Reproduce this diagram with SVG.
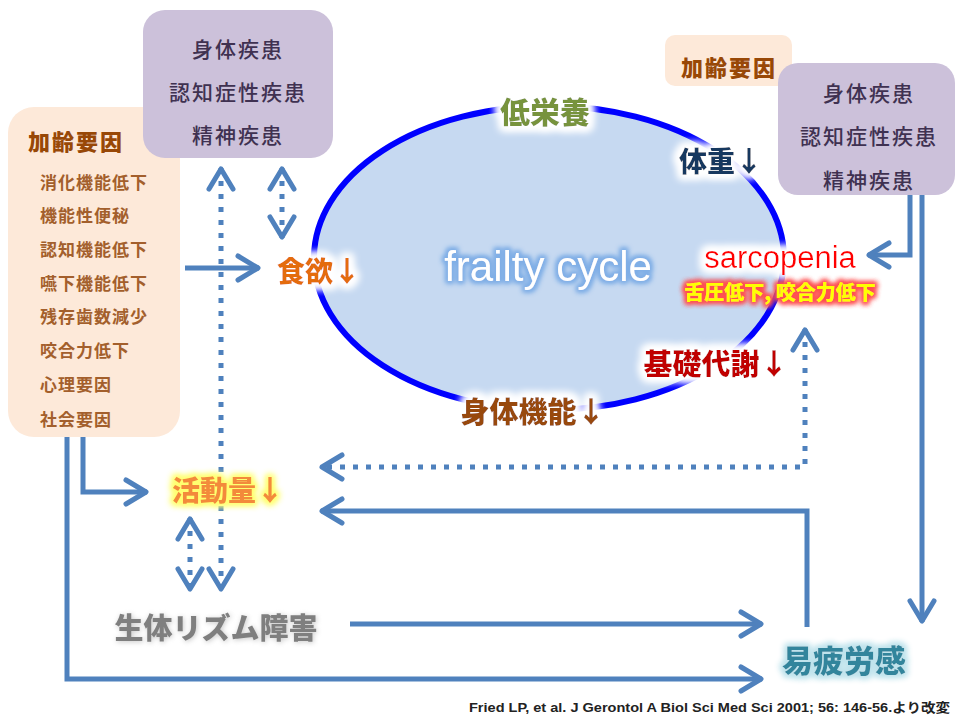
<svg xmlns="http://www.w3.org/2000/svg" width="957" height="718" viewBox="0 0 957 718">
<defs>
<style>
.lbl{font-family:"Noto Sans CJK JP",sans-serif;font-weight:900;text-anchor:middle;dominant-baseline:central;}
.pbox{fill:#ccc1da;}
.obox{fill:#fde9d9;}
.ptxt{font-family:"Noto Sans CJK JP",sans-serif;font-size:21px;font-weight:500;fill:#3f3151;text-anchor:middle;dominant-baseline:central;letter-spacing:2px;}
.item{font-family:"Noto Sans CJK JP",sans-serif;font-size:17px;fill:#a35f2c;dominant-baseline:central;letter-spacing:1px;font-weight:bold;}
.hdr{font-family:"Noto Sans CJK JP",sans-serif;font-size:22px;fill:#984807;font-weight:900;dominant-baseline:central;letter-spacing:2px;}
.c{fill:none;stroke:#4f81bd;stroke-width:5;stroke-linejoin:miter;}
.d{fill:none;stroke:#4f81bd;stroke-width:5;stroke-dasharray:5 8;}
</style>
<marker id="ah" viewBox="-28 -16 32 32" refX="0" refY="0" markerWidth="32" markerHeight="32" markerUnits="userSpaceOnUse" orient="auto-start-reverse">
<path d="M-21,-12 L-1,0 L-21,12" fill="none" stroke="#4f81bd" stroke-width="5" stroke-linecap="round" stroke-linejoin="round" stroke-dasharray="none"/>
</marker>
<filter id="gw" x="-20%" y="-50%" width="140%" height="200%">
<feMorphology in="SourceAlpha" operator="dilate" radius="3" result="d"/>
<feGaussianBlur in="d" stdDeviation="4" result="b"/>
<feFlood flood-color="#ffffff"/>
<feComposite in2="b" operator="in" result="g"/>
<feMerge><feMergeNode in="g"/><feMergeNode in="g"/><feMergeNode in="g"/><feMergeNode in="SourceGraphic"/></feMerge>
</filter>
<filter id="gy" x="-20%" y="-50%" width="140%" height="200%">
<feMorphology in="SourceAlpha" operator="dilate" radius="2" result="d"/>
<feGaussianBlur in="d" stdDeviation="3" result="b"/>
<feFlood flood-color="#ffff70"/>
<feComposite in2="b" operator="in" result="g"/>
<feMerge><feMergeNode in="g"/><feMergeNode in="g"/><feMergeNode in="SourceGraphic"/></feMerge>
</filter>
<filter id="gr" x="-20%" y="-50%" width="140%" height="200%">
<feMorphology in="SourceAlpha" operator="dilate" radius="1.5" result="d"/>
<feGaussianBlur in="d" stdDeviation="2.5" result="b"/>
<feFlood flood-color="#ff5050"/>
<feComposite in2="b" operator="in" result="g"/>
<feMerge><feMergeNode in="g"/><feMergeNode in="g"/><feMergeNode in="SourceGraphic"/></feMerge>
</filter>
<filter id="gb" x="-20%" y="-50%" width="140%" height="200%">
<feMorphology in="SourceAlpha" operator="dilate" radius="1.5" result="d"/>
<feGaussianBlur in="d" stdDeviation="2.5" result="b"/>
<feFlood flood-color="#7faee6"/>
<feComposite in2="b" operator="in" result="g"/>
<feMerge><feMergeNode in="g"/><feMergeNode in="g"/><feMergeNode in="SourceGraphic"/></feMerge>
</filter>
<filter id="gt" x="-20%" y="-50%" width="140%" height="200%">
<feMorphology in="SourceAlpha" operator="dilate" radius="2" result="d"/>
<feGaussianBlur in="d" stdDeviation="3" result="b"/>
<feFlood flood-color="#bfe3ec"/>
<feComposite in2="b" operator="in" result="g"/>
<feMerge><feMergeNode in="g"/><feMergeNode in="g"/><feMergeNode in="SourceGraphic"/></feMerge>
</filter>
<filter id="gg" x="-20%" y="-50%" width="140%" height="200%">
<feGaussianBlur in="SourceAlpha" stdDeviation="2.5" result="b"/>
<feFlood flood-color="#c8c8c8"/>
<feComposite in2="b" operator="in" result="g"/>
<feOffset in="g" dx="1" dy="1" result="o"/>
<feMerge><feMergeNode in="o"/><feMergeNode in="SourceGraphic"/></feMerge>
</filter>
</defs>
<rect width="957" height="718" fill="#ffffff"/>

<g id="cycle">
<ellipse cx="549" cy="258" rx="235" ry="152" fill="#c6d9f1" stroke="#0000ff" stroke-width="6"/>
<text x="548" y="266" font-family="Liberation Sans, Arial, sans-serif" font-size="42" fill="#ffffff" text-anchor="middle" dominant-baseline="central" filter="url(#gb)">frailty cycle</text>
</g>

<g id="age-left">
<rect class="obox" x="8" y="107" width="172" height="330" rx="26"/>
<text class="hdr" x="28" y="140">加齢要因</text>
<text class="item" x="40" y="181">消化機能低下</text>
<text class="item" x="40" y="214">機能性便秘</text>
<text class="item" x="40" y="248">認知機能低下</text>
<text class="item" x="40" y="282">嚥下機能低下</text>
<text class="item" x="40" y="315">残存歯数減少</text>
<text class="item" x="40" y="349">咬合力低下</text>
<text class="item" x="40" y="383">心理要因</text>
<text class="item" x="40" y="418">社会要因</text>
</g>

<g id="disease-left">
<rect class="pbox" x="143" y="10" width="190" height="148" rx="22"/>
<text class="ptxt" x="238" y="48">身体疾患</text>
<text class="ptxt" x="238" y="91">認知症性疾患</text>
<text class="ptxt" x="238" y="134">精神疾患</text>
</g>

<g id="age-right">
<rect class="obox" x="665" y="35" width="127" height="51" rx="10"/>
<text class="hdr" x="729" y="66" text-anchor="middle">加齢要因</text>
</g>

<g id="disease-right">
<rect class="pbox" x="778" y="63" width="177" height="132" rx="20"/>
<text class="ptxt" x="869" y="92">身体疾患</text>
<text class="ptxt" x="869" y="135">認知症性疾患</text>
<text class="ptxt" x="869" y="179">精神疾患</text>
</g>

<g id="connectors">
<path class="c" d="M185,268 H259" marker-end="url(#ah)"/>
<path class="d" d="M221,168 V590" marker-start="url(#ah)" marker-end="url(#ah)"/>
<path class="d" d="M282,168 V238" marker-start="url(#ah)" marker-end="url(#ah)"/>
<path class="d" d="M190,518 V590" marker-start="url(#ah)" marker-end="url(#ah)"/>
<path class="c" d="M83,437 V492 H147" marker-end="url(#ah)"/>
<path class="c" d="M67,437 V679 H762" marker-end="url(#ah)"/>
<path class="d" d="M805,329 V467 H321" marker-start="url(#ah)" marker-end="url(#ah)"/>
<path class="c" d="M807,627 V511 H321" marker-end="url(#ah)"/>
<path class="c" d="M350,624 H762" marker-end="url(#ah)"/>
<path class="c" d="M910,195 V255 H868" marker-end="url(#ah)"/>
<path class="c" d="M922,195 V622" marker-end="url(#ah)"/>
</g>

<g id="lownutrition"><text class="lbl" x="545" y="110" font-size="30" fill="#77933c" filter="url(#gw)">低栄養</text></g>
<g id="weight"><text class="lbl" x="721" y="160" font-size="28" fill="#17375e" filter="url(#gw)">体重↓</text></g>
<g id="appetite"><text class="lbl" x="319" y="270" font-size="28" fill="#e46c0a" filter="url(#gw)">食欲↓</text></g>
<g id="sarcopenia">
<text x="780" y="257" font-family="Liberation Sans, Arial, sans-serif" font-size="31" fill="#ff0000" text-anchor="middle" dominant-baseline="central" filter="url(#gw)">sarcopenia</text>
<text class="lbl" x="780" y="291" font-size="20" fill="#ffff00" filter="url(#gr)">舌圧低下, 咬合力低下</text>
</g>
<g id="metabolism"><text class="lbl" x="716" y="362" font-size="29" fill="#c00000" filter="url(#gw)">基礎代謝↓</text></g>
<g id="physical"><text class="lbl" x="533" y="410" font-size="29" fill="#984807" filter="url(#gw)">身体機能↓</text></g>
<g id="activity"><text class="lbl" x="228" y="489" font-size="28" fill="#f38a3a" filter="url(#gy)">活動量↓</text></g>
<g id="rhythm"><text class="lbl" x="216" y="626" font-size="29" fill="#7f7f7f" filter="url(#gg)">生体リズム障害</text></g>
<g id="fatigue"><text class="lbl" x="844" y="658" font-size="31" fill="#31859c" filter="url(#gt)">易疲労感</text></g>

<g id="citation"><text x="469" y="712" font-family="Liberation Sans, Arial, 'Noto Sans CJK JP', sans-serif" font-size="13" font-weight="bold" fill="#222222" textLength="481" lengthAdjust="spacingAndGlyphs">Fried LP, et al. J Gerontol A Biol Sci Med Sci 2001; 56: 146-56.より改変</text></g>
</svg>
